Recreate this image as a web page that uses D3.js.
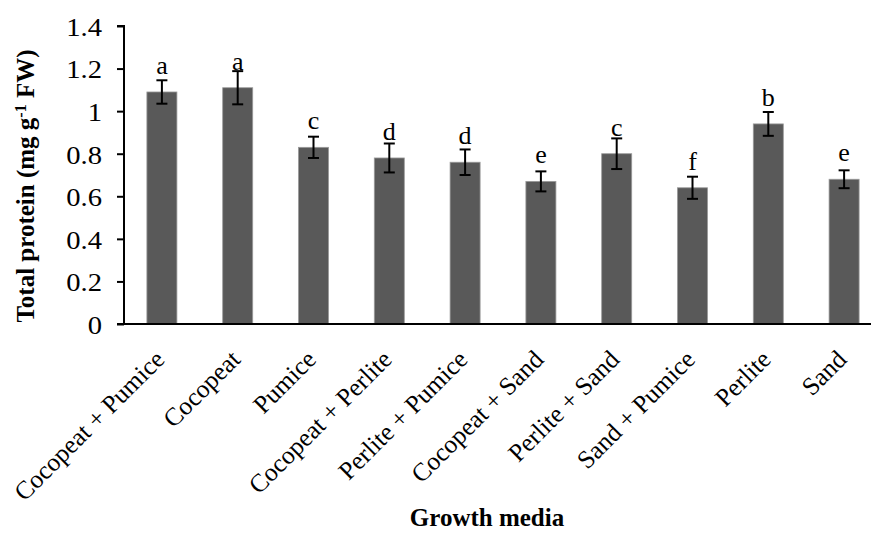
<!DOCTYPE html>
<html><head><meta charset="utf-8">
<script src="https://cdn.jsdelivr.net/npm/d3@7"></script>
<style>
html,body{margin:0;padding:0;background:#fff;overflow:hidden;}
text{font-family:"Liberation Serif","Times New Roman",serif;fill:#000;}
</style></head>
<body><svg id="chart" width="871" height="533"></svg>
<script>
const categories = ["Cocopeat + Pumice","Cocopeat","Pumice","Cocopeat + Perlite","Perlite + Pumice","Cocopeat + Sand","Perlite + Sand","Sand + Pumice","Perlite","Sand"];
const values = [1.09,1.11,0.83,0.78,0.76,0.67,0.80,0.64,0.94,0.68];
const errors = [0.055,0.078,0.05,0.068,0.06,0.047,0.072,0.052,0.056,0.042];
const letters = ["a","a","c","d","d","e","c","f","b","e"];
const yTicks = [0,0.2,0.4,0.6,0.8,1,1.2,1.4];

const svg = d3.select("#chart");
const mLeft = 124, mRight = 882, mTop = 26, mBottom = 324;
const x = d3.scaleBand().domain(categories).range([mLeft,mRight]).paddingInner(0.604).paddingOuter(0.302);
const y = d3.scaleLinear().domain([0,1.4]).range([mBottom,mTop]);

// bars
svg.append("g").selectAll("rect").data(values).join("rect")
  .attr("x",(d,i)=>x(categories[i]))
  .attr("y",d=>y(d))
  .attr("width",x.bandwidth())
  .attr("height",d=>y(0)-y(d))
  .attr("fill","#595959")
  .attr("stroke","#9a9a9a").attr("stroke-width",0.8);

// error bars
const eg = svg.append("g").attr("stroke","#000").attr("stroke-width",2);
values.forEach((v,i)=>{
  const cx = x(categories[i]) + x.bandwidth()/2;
  eg.append("line").attr("x1",cx).attr("x2",cx).attr("y1",y(v+errors[i])).attr("y2",y(v-errors[i]));
  eg.append("line").attr("x1",cx-5.5).attr("x2",cx+5.5).attr("y1",y(v+errors[i])).attr("y2",y(v+errors[i]));
  eg.append("line").attr("x1",cx-5.5).attr("x2",cx+5.5).attr("y1",y(v-errors[i])).attr("y2",y(v-errors[i]));
});

// letters
svg.append("g").selectAll("text").data(letters).join("text")
  .attr("x",(d,i)=>x(categories[i])+x.bandwidth()/2)
  .attr("y",(d,i)=>y(values[i])-18)
  .attr("text-anchor","middle")
  .style("font-size","26px")
  .text(d=>d);

// y axis
const yAxis = svg.append("g").attr("transform",`translate(${mLeft},0)`)
  .call(d3.axisLeft(y).tickValues(yTicks).tickSize(7).tickPadding(9).tickFormat(d=>String(d)));
yAxis.select(".domain").attr("stroke","#000").attr("stroke-width",2).attr("d",`M-7,${mTop}H0V${mBottom}`);
yAxis.selectAll(".tick line").attr("stroke","#000").attr("stroke-width",2);
yAxis.selectAll(".tick text")
  .attr("x",0).attr("transform","translate(-22,1) scale(1.1,1)")
  .style("font-size","26px").style("font-family","Liberation Serif, serif").attr("fill","#000");

// x axis
const xAxis = svg.append("g").attr("transform",`translate(0,${mBottom})`)
  .call(d3.axisBottom(x).tickSize(0).tickFormat(""));
xAxis.select(".domain").attr("stroke","#000").attr("stroke-width",2).attr("d",`M${mLeft-7},0H${mRight}`);

// category labels
svg.append("g").selectAll("text").data(categories).join("text")
  .attr("transform",d=>`translate(${x(d)+x.bandwidth()/2+4},361) rotate(-45)`)
  .attr("text-anchor","end")
  .style("font-size","25.5px")
  .text(d=>d);

// axis titles
const yt = svg.append("text")
  .attr("transform","translate(34,186) rotate(-90)")
  .attr("text-anchor","middle")
  .style("font-size","25px").style("font-weight","bold");
yt.append("tspan").text("Total protein (mg g");
yt.append("tspan").attr("baseline-shift","super").style("font-size","16px").text("-1");
yt.append("tspan").text(" FW)");

svg.append("text").attr("x",487).attr("y",526).attr("text-anchor","middle")
  .style("font-size","25px").style("font-weight","bold").text("Growth media");
</script></body></html>
